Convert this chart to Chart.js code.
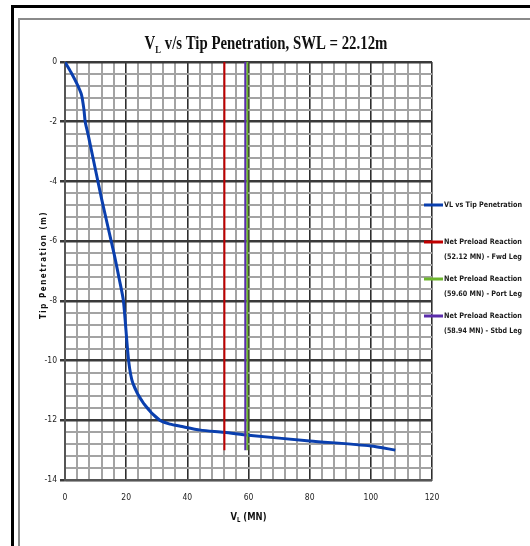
<!DOCTYPE html>
<html>
<head>
<meta charset="utf-8">
<script src="https://cdn.jsdelivr.net/npm/chart.js@4.4.1/dist/chart.umd.min.js"></script>
<style>
  html, body { margin: 0; padding: 0; background: #fff; }
  canvas { display: block; }
</style>
</head>
<body>
<canvas id="penChart" width="530" height="546"></canvas>
<script>
// load (MN) vs tip penetration (m)
const curveLoad = [0, 2.0, 4.0, 5.4, 6.2, 6.6, 7.6, 12.0, 16.0, 17.8, 19.1, 20.8, 22.2, 25.7, 31.0, 34.4, 37.7, 44.3, 52.0, 60.0, 80.0, 100.0, 108.0];
const curvePen  = [0, -0.35, -0.75, -1.1, -1.6, -2.0, -2.45, -4.6, -6.4, -7.3, -8.0, -10.0, -10.76, -11.43, -12.0, -12.13, -12.2, -12.33, -12.4, -12.5, -12.69, -12.86, -13.0];

// net preload reactions per leg
const preloadNames  = ['Fwd Leg', 'Port Leg', 'Stbd Leg'];
const preloadValues = [52.12, 59.60, 58.94];
const preloadColors = ['#c00000', '#6cb52d', '#5a2cab'];
const preloadTop = 0, preloadBottom = -13;

const curveColor = '#0a3fae';
const xTickLabels = [0, 20, 40, 60, 80, 100, 120];
const yTickLabels = [0, -2, -4, -6, -8, -10, -12, -14];

const datasets = [{
  label: 'VL vs Tip Penetration',
  data: curveLoad.map((x, i) => ({ x: x, y: curvePen[i] })),
  borderColor: curveColor,
  borderWidth: 3,
  pointRadius: 0,
  tension: 0.25,
  order: 5
}];
preloadValues.forEach((v, i) => {
  datasets.push({
    label: ['Net Preload Reaction', '(' + v.toFixed(2) + ' MN) - ' + preloadNames[i]],
    data: [{ x: v, y: preloadTop }, { x: v, y: preloadBottom }],
    borderColor: preloadColors[i],
    borderWidth: 2,
    pointRadius: 0,
    order: 3 - i
  });
});

const isMajorX = v => Math.round(v) % 20 === 0;
const isMajorY = v => Math.round(Math.abs(v) * 10) % 20 === 0;

// draw "V" with subscript "L" followed by the rest of the string
function drawSubV(ctx, x, y, size, family, rest, align) {
  const big = 'bold ' + size + 'px ' + family;
  const small = 'bold ' + Math.round(size * 0.6) + 'px ' + family;
  ctx.font = big; const wV = ctx.measureText('V').width;
  ctx.font = small; const wL = ctx.measureText('L').width;
  ctx.font = big; const wR = ctx.measureText(rest).width;
  let sx = x;
  if (align === 'center') sx = x - (wV + wL + wR) / 2;
  ctx.textAlign = 'left';
  ctx.textBaseline = 'alphabetic';
  ctx.font = big; ctx.fillText('V', sx, y);
  ctx.font = small; ctx.fillText('L', sx + wV, y + size * 0.2);
  ctx.font = big; ctx.fillText(rest, sx + wV + wL, y);
}

const decorPlugin = {
  id: 'decor',
  beforeDraw(chart) {
    const ctx = chart.ctx;
    ctx.save();
    ctx.fillStyle = '#fff';
    ctx.fillRect(0, 0, chart.width, chart.height);
    // outer black frame
    ctx.strokeStyle = '#000';
    ctx.lineWidth = 3;
    ctx.strokeRect(12.5, 6.5, 560, 600);
    // inner grey frame
    ctx.strokeStyle = '#8a8a8a';
    ctx.lineWidth = 2;
    ctx.strokeRect(19, 19, 560, 600);
    ctx.restore();
  },
  afterDraw(chart) {
    const ctx = chart.ctx;
    const area = chart.chartArea;
    ctx.save();
    ctx.fillStyle = '#111';

    // title (condensed serif)
    ctx.save();
    ctx.translate(266, 49);
    ctx.scale(0.78, 1);
    drawSubV(ctx, 0, 0, 19, '"Liberation Serif", serif', ' v/s Tip Penetration, SWL = 22.12m', 'center');
    ctx.restore();

    // x axis title
    ctx.save();
    ctx.translate((area.left + area.right) / 2, 520);
    ctx.scale(0.85, 1);
    drawSubV(ctx, 0, 0, 11, '"DejaVu Sans Condensed", sans-serif', ' (MN)', 'center');
    ctx.restore();

    // y axis title
    ctx.save();
    ctx.translate(44, (area.top + area.bottom) / 2 - 6);
    ctx.rotate(-Math.PI / 2);
    ctx.font = 'bold 8px "DejaVu Sans Condensed", sans-serif';
    ctx.textAlign = 'center';
    ctx.textBaseline = 'middle';
    ctx.letterSpacing = '1.5px';
    ctx.fillText('Tip Penetration (m)', 0, 0);
    ctx.restore();

    // legend
    const lx = 424, ly0 = 205, step = 37;
    chart.data.datasets.forEach((ds, i) => {
      const y = ly0 + i * step;
      ctx.strokeStyle = ds.borderColor;
      ctx.lineWidth = 3;
      ctx.beginPath();
      ctx.moveTo(lx, y);
      ctx.lineTo(lx + 19, y);
      ctx.stroke();
      ctx.fillStyle = '#1a1a1a';
      ctx.font = 'bold 7.5px "DejaVu Sans Condensed", sans-serif';
      ctx.textAlign = 'left';
      ctx.textBaseline = 'middle';
      const lines = Array.isArray(ds.label) ? ds.label : [ds.label];
      lines.forEach((t, k) => ctx.fillText(t, lx + 20, y + k * 15, 78));
    });
    ctx.restore();
  }
};

new Chart(document.getElementById('penChart').getContext('2d'), {
  type: 'line',
  data: { datasets: datasets },
  options: {
    responsive: false,
    animation: false,
    layout: { padding: { left: 20, right: 98, top: 62, bottom: 21 } },
    plugins: {
      legend: { display: false },
      tooltip: { enabled: false },
      title: { display: false }
    },
    scales: {
      x: {
        type: 'linear',
        min: 0, max: 120,
        afterFit: s => { s.height = 45; },
        afterBuildTicks: s => { s.ticks = []; for (let v = 0; v <= 120; v += 4) s.ticks.push({ value: v }); },
        ticks: {
          autoSkip: false, maxRotation: 0, padding: 9,
          color: '#222', font: { size: 8.5, family: '"DejaVu Sans Condensed", sans-serif' },
          callback: v => xTickLabels.includes(v) ? String(v) : ''
        },
        grid: {
          color: c => isMajorX(c.tick.value) ? '#2e2e2e' : '#a3a3a3',
          lineWidth: c => isMajorX(c.tick.value) ? 1.6 : 2,
          tickLength: 4,
          tickColor: 'rgba(0,0,0,0)'
        },
        border: { display: true, color: '#555', width: 2 }
      },
      y: {
        type: 'linear',
        min: -14, max: 0,
        afterFit: s => { s.width = 45; },
        afterBuildTicks: s => { s.ticks = []; for (let k = 35; k >= 0; k--) s.ticks.push({ value: -Math.round(k * 4) / 10 }); },
        ticks: {
          autoSkip: false, padding: 3,
          color: '#222', font: { size: 8.5, family: '"DejaVu Sans Condensed", sans-serif' },
          callback: v => {
            const r = Math.round(v * 10) / 10;
            return yTickLabels.includes(r) ? String(r === 0 ? 0 : r) : '';
          }
        },
        grid: {
          color: c => isMajorY(c.tick.value) ? '#3a3a3a' : '#a3a3a3',
          lineWidth: c => isMajorY(c.tick.value) ? 2.5 : 2,
          tickLength: 5,
          tickColor: c => isMajorY(c.tick.value) ? '#3a3a3a' : 'rgba(0,0,0,0)'
        },
        border: { display: true, color: '#555', width: 2 }
      }
    }
  },
  plugins: [decorPlugin]
});
</script>
</body>
</html>
